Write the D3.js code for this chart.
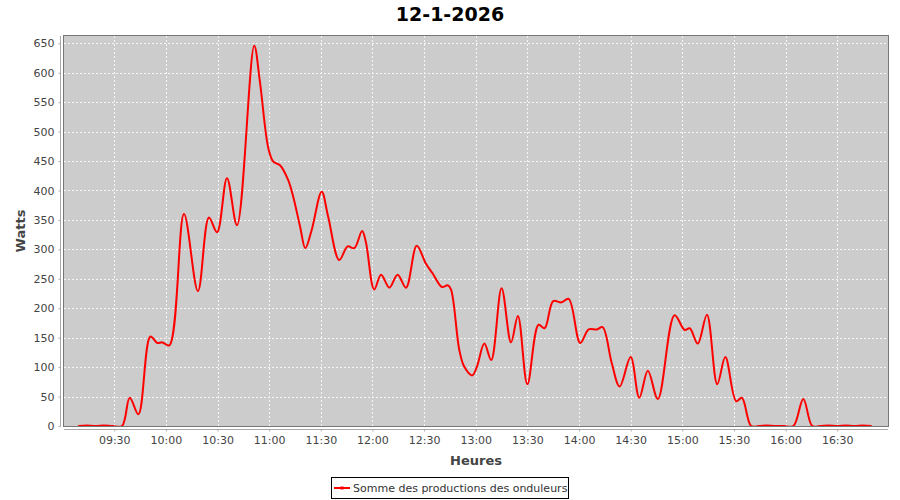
<!DOCTYPE html>
<html>
<head>
<meta charset="utf-8">
<script src="https://cdn.jsdelivr.net/npm/d3@7"></script>
<style>
  html, body { margin: 0; padding: 0; background: #ffffff; }
  svg { display: block; font-family: "DejaVu Sans", sans-serif; }
</style>
</head>
<body>
<svg id="chart" width="900" height="500"></svg>
<script>
const chartTitle = "12-1-2026";
const xAxisTitle = "Heures";
const yAxisTitle = "Watts";
const seriesName = "Somme des productions des onduleurs";

const times = [
  "09:09:00","09:14:00","09:19:00","09:24:00","09:29:00","09:34:30",
  "09:39:00","09:44:00","09:51:00","09:55:00","09:58:00","10:02:00",
  "10:10:30","10:18:36","10:25:00","10:29:42","10:35:30","10:41:18",
  "10:51:18","10:54:36","10:59:30","11:02:24","11:06:18","11:11:00",
  "11:14:00","11:18:00","11:21:00","11:24:42","11:30:30","11:34:18",
  "11:40:42","11:45:36","11:49:24","11:54:00","11:56:12","12:01:00",
  "12:05:00","12:09:48","12:14:36","12:19:30","12:25:42","12:31:00",
  "12:35:00","12:40:24","12:43:42","12:45:36","12:50:24","12:53:18",
  "12:58:00","13:00:42","13:05:00","13:09:00","13:15:00","13:20:30",
  "13:24:30","13:30:00","13:36:30","13:40:00","13:45:00","13:49:42",
  "13:54:00","14:00:42","14:05:36","14:10:24","14:13:42","14:19:00",
  "14:23:36","14:30:00","14:35:00","14:40:00","14:45:48","14:55:30",
  "15:01:24","15:04:18","15:09:00","15:14:18","15:20:18","15:25:00",
  "15:31:18","15:34:36","15:40:00","15:44:30","15:49:00","15:54:00",
  "15:59:00","16:04:30","16:10:18","16:15:30","16:20:00","16:25:00",
  "16:30:00","16:35:00","16:40:00","16:45:00","16:50:00"
];
const watts = [
  0, 1, 0, 1, 0, 0,
  48, 20, 152, 141, 142, 137,
  360, 229, 354, 329, 421, 341,
  646, 585, 472, 449, 443, 418,
  389, 338, 302, 333, 398, 355,
  282, 305, 302, 331, 312, 232,
  257, 235, 257, 235, 306, 276,
  259, 236, 239, 232, 130, 101,
  86, 101, 140, 112, 234, 142,
  187, 71, 172, 166, 212, 210,
  216, 141, 164, 164, 168, 107,
  67, 117, 48, 94, 46, 188,
  163, 166, 140, 189, 71, 117,
  42, 48, 0, 0, 1, 0,
  0, 0, 46, 0, 0, 1,
  0, 1, 0, 1, 0
];
const yTicks = [0,50,100,150,200,250,300,350,400,450,500,550,600,650];
const xTickLabels = ["09:30","10:00","10:30","11:00","11:30","12:00","12:30","13:00","13:30","14:00","14:30","15:00","15:30","16:00","16:30"];

const day = "2026-01-12T";
const parseT = d3.timeParse("%Y-%m-%dT%H:%M:%S");
const parseTick = d3.timeParse("%Y-%m-%dT%H:%M");
const data = times.map((t, i) => ({ t: parseT(day + t), v: watts[i] }));

const svg = d3.select("#chart");
const L = 64, R = 888, T = 36, B = 426;

const x = d3.scaleTime()
  .domain([parseT(day + "09:00:48"), parseT(day + "16:59:30")])
  .range([L, R]);
const y = d3.scaleLinear().domain([0, 662.4]).range([B, T]);

// title
svg.append("text")
  .attr("x", 450).attr("y", 21)
  .attr("text-anchor", "middle")
  .attr("font-size", 19).attr("font-weight", "bold")
  .attr("fill", "#000")
  .text(chartTitle);

// plot background
svg.append("rect")
  .attr("x", L).attr("y", T).attr("width", R - L).attr("height", B - T)
  .attr("fill", "#cccccc");

// grid
const xTickDates = xTickLabels.map(s => parseTick(day + s));
svg.append("g").selectAll("line").data(xTickDates).join("line")
  .attr("x1", d => Math.round(x(d)) + 0.5).attr("x2", d => Math.round(x(d)) + 0.5)
  .attr("y1", T).attr("y2", B)
  .attr("stroke", "#f4f4f4").attr("stroke-width", 1).attr("stroke-dasharray", "2,2");
svg.append("g").selectAll("line").data(yTicks.filter(d => d > 0)).join("line")
  .attr("x1", L).attr("x2", R)
  .attr("y1", d => Math.round(y(d)) + 0.5).attr("y2", d => Math.round(y(d)) + 0.5)
  .attr("stroke", "#f4f4f4").attr("stroke-width", 1).attr("stroke-dasharray", "2,2");

// line
svg.append("clipPath").attr("id", "clip")
  .append("rect").attr("x", L).attr("y", T).attr("width", R - L).attr("height", B - T);
const line = d3.line()
  .x(d => x(d.t)).y(d => y(d.v))
  .curve(d3.curveCatmullRom.alpha(0.5));
svg.append("path")
  .datum(data)
  .attr("clip-path", "url(#clip)")
  .attr("d", line)
  .attr("fill", "none")
  .attr("stroke", "#ff0000")
  .attr("stroke-width", 2)
  .attr("stroke-linejoin", "round");

// plot outline
svg.append("rect")
  .attr("x", L - 0.5).attr("y", T - 0.5).attr("width", R - L + 1).attr("height", B - T + 1)
  .attr("fill", "none").attr("stroke", "#777777").attr("stroke-width", 1);

// y axis
const yAxis = d3.axisLeft(y).tickValues(yTicks).tickSize(2).tickPadding(4).tickFormat(d3.format("d"));
const gy = svg.append("g").attr("transform", `translate(${L - 3.5},0)`).call(yAxis);
gy.select(".domain").attr("stroke", "#aaaaaa").attr("d", `M0,${T}V${B + 0.5}`);
gy.selectAll(".tick line").attr("stroke", "#aaaaaa");
gy.selectAll("text").attr("font-size", 11).attr("fill", "#444444").attr("font-family", "DejaVu Sans");

// x axis
const xAxis = d3.axisBottom(x).tickValues(xTickDates).tickSize(2).tickPadding(5).tickFormat(d3.timeFormat("%H:%M"));
const gx = svg.append("g").attr("transform", `translate(0,${B + 3.5})`).call(xAxis);
gx.select(".domain").attr("stroke", "#aaaaaa").attr("d", `M${L},0H${R}`);
gx.selectAll(".tick line").attr("stroke", "#aaaaaa");
gx.selectAll("text").attr("font-size", 11).attr("fill", "#444444").attr("font-family", "DejaVu Sans");

// axis titles
svg.append("text")
  .attr("x", (L + R) / 2).attr("y", 465)
  .attr("text-anchor", "middle")
  .attr("font-size", 13).attr("font-weight", "bold").attr("fill", "#444444")
  .text(xAxisTitle);
svg.append("text")
  .attr("transform", `translate(25,${(T + B) / 2}) rotate(-90)`)
  .attr("text-anchor", "middle")
  .attr("font-size", 13).attr("font-weight", "bold").attr("fill", "#444444")
  .text(yAxisTitle);

// legend
const lg = svg.append("g");
lg.append("rect")
  .attr("x", 331.5).attr("y", 477.5).attr("width", 237).attr("height", 21)
  .attr("fill", "#ffffff").attr("stroke", "#000000").attr("stroke-width", 1);
lg.append("line")
  .attr("x1", 334).attr("x2", 350).attr("y1", 488).attr("y2", 488)
  .attr("stroke", "#ff0000").attr("stroke-width", 2);
lg.append("rect")
  .attr("x", 340.5).attr("y", 486.5).attr("width", 3).attr("height", 3).attr("fill", "#ff0000");
lg.append("text")
  .attr("x", 353).attr("y", 492)
  .attr("font-size", 11).attr("fill", "#333333")
  .text(seriesName);
</script>
</body>
</html>
